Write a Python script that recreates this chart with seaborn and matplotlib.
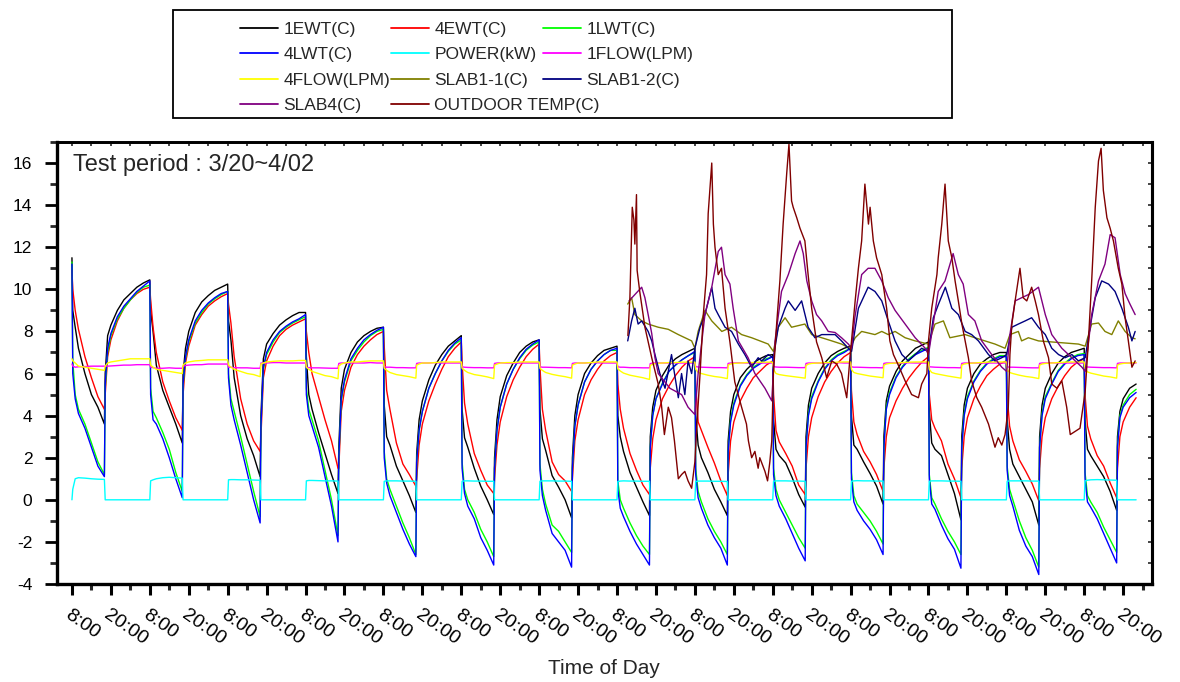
import matplotlib
matplotlib.use("Agg")
import matplotlib.pyplot as plt
from matplotlib.lines import Line2D
from matplotlib.patches import Rectangle
from matplotlib.ticker import MultipleLocator
import pandas as pd
import seaborn as sns

# ---------------------------------------------------------------- data ----
# Loop readings: one row per test day (3/20 ... 4/02).  Each row is sampled at
# these hours after 08:00 (heat pump runs 08:00-18:00, then recovers).
OFFSETS = [0, 0.25, 1, 2, 4, 6, 8, 10, 10.25, 11, 12, 14, 16, 18, 20, 22]

EWT1 = [
    [11.5, 9.0, 8.2, 7.2, 6.0, 5.0, 4.4, 3.6, 6.0, 7.8, 8.3, 9.0, 9.5, 9.8, 10.1, 10.3],
    [10.45, 9.0, 8.0, 6.4, 5.2, 4.4, 3.6, 2.7, 6.0, 7.2, 8.0, 8.9, 9.4, 9.7, 9.95, 10.1],
    [10.25, 8.5, 7.6, 5.8, 4.0, 2.9, 2.1, 1.1, 4.0, 6.7, 7.4, 7.9, 8.3, 8.55, 8.75, 8.9],
    [8.9, 6.8, 5.0, 4.3, 3.2, 2.2, 1.2, 0.3, 2.5, 5.3, 6.2, 7.0, 7.5, 7.8, 8.0, 8.15],
    [8.2, 4.5, 3.0, 2.6, 1.6, 0.9, 0.2, -0.6, 2.2, 3.8, 4.7, 5.7, 6.4, 6.9, 7.3, 7.55],
    [7.8, 4.3, 2.95, 2.5, 1.5, 0.65, 0.0, -0.7, 2.0, 3.8, 4.9, 5.9, 6.5, 7.0, 7.3, 7.5],
    [7.6, 4.3, 2.9, 2.35, 1.15, 0.6, 0.0, -0.85, 2.0, 4.0, 5.0, 6.0, 6.5, 6.85, 7.1, 7.2],
    [7.3, 4.0, 3.0, 2.3, 1.3, 0.6, -0.1, -0.75, 3.0, 4.4, 5.2, 5.9, 6.4, 6.7, 6.9, 7.05],
    [7.2, 4.0, 2.6, 2.0, 1.3, 0.5, -0.1, -0.75, 2.8, 4.2, 5.0, 5.8, 6.2, 6.5, 6.7, 6.85],
    [6.9, 3.8, 2.4, 2.1, 1.75, 1.05, 0.25, -0.35, 3.0, 4.5, 5.3, 6.0, 6.5, 6.85, 7.05, 7.2],
    [7.3, 4.0, 2.6, 2.4, 1.8, 1.25, 0.65, -0.2, 3.0, 4.7, 5.4, 6.1, 6.6, 6.9, 7.2, 7.35],
    [7.5, 4.2, 2.7, 2.4, 2.1, 1.2, 0.3, -0.95, 3.0, 4.5, 5.3, 6.0, 6.45, 6.7, 6.9, 7.0],
    [7.0, 3.8, 2.4, 1.7, 1.1, 0.5, -0.1, -1.2, 3.0, 4.5, 5.3, 6.0, 6.5, 6.8, 7.0, 7.1],
    [7.2, 3.8, 2.4, 2.1, 1.6, 1.1, 0.4, -0.5, 3.0, 4.2, 4.8, 5.3, 5.5],
]

EWT4 = [
    [10.9, 10.0, 9.0, 8.1, 6.8, 5.8, 4.9, 4.3, 5.0, 6.8, 7.6, 8.5, 9.1, 9.5, 9.8, 10.0],
    [10.1, 9.5, 8.2, 7.0, 5.6, 4.7, 3.9, 3.3, 5.0, 6.5, 7.3, 8.3, 8.8, 9.2, 9.45, 9.65],
    [9.8, 9.3, 8.4, 6.8, 4.8, 3.6, 2.8, 2.3, 3.0, 5.8, 6.6, 7.3, 7.8, 8.1, 8.3, 8.45],
    [8.6, 8.0, 7.0, 6.0, 4.9, 3.8, 2.8, 1.5, 1.5, 4.2, 5.2, 6.3, 6.9, 7.3, 7.6, 7.85],
    [8.0, 7.3, 5.2, 4.3, 2.7, 1.7, 1.2, 0.65, 1.0, 2.6, 3.6, 4.7, 5.5, 6.2, 6.8, 7.2],
    [7.5, 6.5, 4.6, 3.6, 2.2, 1.4, 0.7, 0.3, 1.0, 2.6, 3.7, 4.9, 5.7, 6.3, 6.8, 7.15],
    [7.4, 6.3, 4.3, 3.3, 1.8, 1.2, 0.9, 0.4, 1.0, 2.8, 3.8, 5.0, 5.7, 6.2, 6.6, 6.85],
    [7.0, 5.5, 4.3, 3.4, 2.2, 1.4, 0.7, 0.25, 1.5, 2.9, 3.8, 4.8, 5.4, 5.9, 6.3, 6.6],
    [6.8, 5.5, 3.7, 3.3, 2.5, 1.75, 0.9, 0.2, 1.2, 2.8, 3.7, 4.7, 5.3, 5.8, 6.1, 6.4],
    [6.6, 5.0, 3.3, 2.75, 2.2, 1.6, 0.7, 0.25, 1.5, 3.0, 3.9, 4.9, 5.6, 6.1, 6.5, 6.8],
    [7.0, 5.2, 3.7, 3.1, 2.3, 1.8, 1.2, 0.4, 1.5, 3.0, 3.9, 4.7, 5.3, 5.8, 6.2, 6.55],
    [6.8, 5.0, 3.8, 3.4, 2.8, 1.7, 1.0, 0.1, 1.5, 3.0, 3.9, 4.8, 5.4, 5.9, 6.2, 6.45],
    [6.6, 5.0, 3.5, 2.8, 1.9, 1.35, 0.75, -0.05, 1.5, 3.0, 3.9, 4.8, 5.4, 5.9, 6.3, 6.55],
    [6.7, 5.0, 3.5, 2.9, 2.1, 1.6, 0.8, 0.1, 1.5, 3.0, 3.7, 4.4, 4.85],
]

LWT1 = [
    [11.3, 6.6, 5.0, 4.3, 3.6, 2.7, 1.8, 1.2, 5.3, 7.0, 7.8, 8.6, 9.1, 9.5, 9.85, 10.1],
    [10.2, 5.3, 4.2, 3.9, 3.2, 2.4, 1.3, 0.4, 5.4, 6.7, 7.5, 8.4, 8.9, 9.3, 9.55, 9.75],
    [9.9, 6.0, 4.8, 4.2, 3.0, 1.7, 0.4, -0.8, 3.5, 6.2, 6.9, 7.5, 7.95, 8.2, 8.4, 8.55],
    [8.7, 5.3, 4.3, 3.8, 2.8, 1.4, 0.0, -1.7, 2.0, 4.7, 5.6, 6.6, 7.1, 7.5, 7.8, 8.0],
    [8.1, 2.3, 1.0, 0.5, -0.3, -1.1, -1.8, -2.6, 1.8, 3.3, 4.2, 5.3, 6.0, 6.6, 7.05, 7.4],
    [7.6, 1.8, 0.5, 0.0, -0.6, -1.4, -2.0, -2.7, 1.5, 3.3, 4.4, 5.5, 6.2, 6.7, 7.1, 7.35],
    [7.5, 1.7, 0.5, -0.2, -1.2, -1.5, -2.0, -2.5, 1.5, 3.5, 4.5, 5.6, 6.2, 6.6, 6.9, 7.1],
    [7.1, 0.9, 0.0, -0.4, -1.1, -1.7, -2.2, -2.6, 2.5, 4.0, 4.8, 5.55, 6.1, 6.4, 6.65, 6.85],
    [7.0, 1.5, 0.4, -0.1, -0.9, -1.5, -2.0, -2.6, 2.3, 3.8, 4.6, 5.45, 5.95, 6.3, 6.5, 6.7],
    [6.8, 1.5, 0.5, 0.0, -0.6, -1.2, -1.8, -2.3, 2.5, 4.1, 4.9, 5.65, 6.25, 6.65, 6.9, 7.05],
    [7.2, 1.3, 0.2, -0.2, -0.6, -1.0, -1.5, -2.1, 2.5, 4.4, 5.1, 5.85, 6.35, 6.7, 6.95, 7.1],
    [7.25, 1.2, 0.1, -0.2, -0.9, -1.5, -2.0, -2.6, 2.5, 4.1, 4.9, 5.65, 6.15, 6.5, 6.7, 6.85],
    [6.85, 1.6, 0.5, 0.0, -1.0, -1.8, -2.4, -3.2, 2.5, 4.1, 4.9, 5.55, 6.15, 6.5, 6.75, 6.9],
    [6.95, 1.3, 0.2, -0.1, -0.6, -1.3, -1.9, -2.5, 2.6, 4.0, 4.5, 5.0, 5.25],
]

LWT4 = [
    [11.2, 6.0, 4.8, 4.1, 3.4, 2.5, 1.6, 1.1, 5.5, 7.2, 7.9, 8.7, 9.2, 9.55, 9.9, 10.15],
    [10.4, 5.0, 3.8, 3.6, 2.9, 2.0, 1.0, 0.1, 5.5, 6.8, 7.6, 8.5, 9.0, 9.35, 9.6, 9.8],
    [9.9, 5.8, 4.5, 3.8, 2.6, 1.3, 0.0, -1.1, 3.5, 6.3, 7.0, 7.6, 8.0, 8.25, 8.45, 8.6],
    [8.8, 5.0, 4.0, 3.5, 2.5, 1.1, -0.3, -2.0, 2.0, 4.8, 5.7, 6.7, 7.2, 7.6, 7.85, 8.05],
    [8.2, 2.0, 0.8, 0.2, -0.6, -1.4, -2.1, -2.7, 1.8, 3.3, 4.2, 5.3, 6.0, 6.6, 7.1, 7.45],
    [7.7, 1.5, 0.3, -0.3, -0.9, -1.8, -2.4, -3.1, 1.5, 3.3, 4.4, 5.5, 6.2, 6.75, 7.15, 7.4],
    [7.6, 1.4, 0.2, -0.5, -1.6, -2.0, -2.4, -3.2, 1.5, 3.5, 4.5, 5.6, 6.2, 6.6, 6.9, 7.1],
    [7.2, 0.5, -0.4, -0.8, -1.5, -2.1, -2.6, -3.1, 2.5, 4.0, 4.8, 5.5, 6.1, 6.4, 6.65, 6.85],
    [7.05, 1.2, 0.1, -0.4, -1.2, -1.8, -2.3, -3.1, 2.3, 3.7, 4.5, 5.4, 5.9, 6.25, 6.45, 6.65],
    [6.8, 1.2, 0.2, -0.3, -0.9, -1.6, -2.3, -2.9, 2.5, 4.0, 4.8, 5.6, 6.2, 6.6, 6.85, 7.0],
    [7.2, 1.0, -0.1, -0.5, -1.0, -1.4, -1.9, -2.6, 2.5, 4.3, 5.0, 5.8, 6.3, 6.65, 6.9, 7.05],
    [7.2, 1.0, -0.2, -0.45, -1.2, -1.85, -2.35, -3.25, 2.5, 4.0, 4.8, 5.6, 6.1, 6.45, 6.65, 6.8],
    [6.8, 1.4, 0.2, -0.3, -1.45, -2.2, -2.7, -3.55, 2.5, 4.0, 4.8, 5.5, 6.1, 6.45, 6.7, 6.85],
    [6.9, 1.0, -0.1, -0.35, -0.9, -1.6, -2.3, -3.0, 2.5, 3.9, 4.4, 4.85, 5.1],
]

POWER_KW = [
    [0, 0.50, 1.00, 1.05, 1.03, 1.00, 0.98, 0.97, 0, 0, 0, 0, 0, 0, 0, 0],
    [0, 0.90, 0.95, 1.00, 1.05, 1.07, 1.05, 1.03, 0, 0, 0, 0, 0, 0, 0, 0],
    [0, 0.95, 0.96, 0.96, 0.95, 0.95, 0.94, 0.93, 0, 0, 0, 0, 0, 0, 0, 0],
    [0, 0.90, 0.92, 0.92, 0.91, 0.90, 0.90, 0.89, 0, 0, 0, 0, 0, 0, 0, 0],
    [0, 0.88, 0.90, 0.90, 0.90, 0.89, 0.89, 0.88, 0, 0, 0, 0, 0, 0, 0, 0],
    [0, 0.88, 0.90, 0.90, 0.89, 0.89, 0.88, 0.88, 0, 0, 0, 0, 0, 0, 0, 0],
    [0, 0.88, 0.90, 0.90, 0.90, 0.89, 0.89, 0.88, 0, 0, 0, 0, 0, 0, 0, 0],
    [0, 0.87, 0.89, 0.90, 0.89, 0.89, 0.88, 0.88, 0, 0, 0, 0, 0, 0, 0, 0],
    [0, 0.87, 0.89, 0.89, 0.89, 0.88, 0.88, 0.87, 0, 0, 0, 0, 0, 0, 0, 0],
    [0, 0.88, 0.90, 0.90, 0.90, 0.89, 0.89, 0.88, 0, 0, 0, 0, 0, 0, 0, 0],
    [0, 0.88, 0.90, 0.91, 0.90, 0.90, 0.89, 0.89, 0, 0, 0, 0, 0, 0, 0, 0],
    [0, 0.88, 0.90, 0.90, 0.90, 0.89, 0.89, 0.88, 0, 0, 0, 0, 0, 0, 0, 0],
    [0, 0.88, 0.90, 0.90, 0.90, 0.90, 0.89, 0.89, 0, 0, 0, 0, 0, 0, 0, 0],
    [0, 0.90, 0.93, 0.95, 0.96, 0.95, 0.94, 0.93, 0, 0, 0, 0, 0],
]

FLOW1 = [
    [6.45, 6.35, 6.30, 6.32, 6.33, 6.35, 6.35, 6.35, 6.35, 6.35, 6.36, 6.38, 6.40, 6.40, 6.42, 6.42],
    [6.42, 6.30, 6.28, 6.25, 6.25, 6.27, 6.25, 6.25, 6.35, 6.38, 6.40, 6.42, 6.42, 6.45, 6.45, 6.45],
    [6.45, 6.30, 6.30, 6.28, 6.27, 6.27, 6.25, 6.25, 6.50, 6.50, 6.50, 6.52, 6.52, 6.50, 6.50, 6.50],
    [6.50, 6.30, 6.28, 6.27, 6.27, 6.26, 6.25, 6.25, 6.48, 6.50, 6.50, 6.50, 6.50, 6.50, 6.52, 6.50],
    [6.50, 6.32, 6.30, 6.30, 6.28, 6.28, 6.27, 6.27, 6.48, 6.50, 6.50, 6.50, 6.52, 6.50, 6.50, 6.50],
    [6.50, 6.32, 6.30, 6.29, 6.28, 6.28, 6.27, 6.27, 6.48, 6.50, 6.51, 6.50, 6.50, 6.50, 6.50, 6.50],
    [6.50, 6.32, 6.30, 6.30, 6.29, 6.28, 6.28, 6.27, 6.48, 6.50, 6.50, 6.50, 6.52, 6.51, 6.50, 6.50],
    [6.50, 6.32, 6.30, 6.30, 6.28, 6.28, 6.27, 6.27, 6.47, 6.50, 6.50, 6.50, 6.50, 6.50, 6.50, 6.50],
    [6.50, 6.33, 6.31, 6.30, 6.29, 6.28, 6.28, 6.27, 6.48, 6.50, 6.50, 6.51, 6.50, 6.50, 6.50, 6.50],
    [6.50, 6.33, 6.31, 6.30, 6.30, 6.29, 6.28, 6.28, 6.48, 6.50, 6.50, 6.50, 6.50, 6.50, 6.52, 6.50],
    [6.50, 6.32, 6.30, 6.30, 6.29, 6.28, 6.28, 6.27, 6.48, 6.50, 6.50, 6.50, 6.50, 6.51, 6.50, 6.50],
    [6.50, 6.32, 6.31, 6.30, 6.29, 6.28, 6.28, 6.27, 6.48, 6.50, 6.50, 6.50, 6.50, 6.50, 6.50, 6.50],
    [6.50, 6.32, 6.30, 6.30, 6.29, 6.28, 6.27, 6.27, 6.48, 6.50, 6.50, 6.51, 6.50, 6.50, 6.50, 6.50],
    [6.50, 6.33, 6.31, 6.30, 6.29, 6.28, 6.28, 6.27, 6.48, 6.50, 6.50, 6.50, 6.50],
]

FLOW4 = [
    [6.70, 6.60, 6.50, 6.35, 6.30, 6.25, 6.20, 6.15, 6.35, 6.50, 6.55, 6.60, 6.65, 6.70, 6.70, 6.70],
    [6.70, 6.40, 6.30, 6.20, 6.15, 6.10, 6.05, 6.00, 6.40, 6.50, 6.55, 6.60, 6.62, 6.65, 6.65, 6.65],
    [6.65, 6.40, 6.30, 6.20, 6.10, 6.00, 5.95, 5.85, 6.45, 6.50, 6.55, 6.58, 6.60, 6.60, 6.60, 6.62],
    [6.62, 6.30, 6.20, 6.10, 6.00, 5.90, 5.85, 5.75, 6.35, 6.45, 6.50, 6.55, 6.55, 6.58, 6.60, 6.60],
    [6.60, 6.25, 6.15, 6.05, 5.95, 5.90, 5.85, 5.78, 6.40, 6.45, 6.50, 6.50, 6.52, 6.55, 6.55, 6.55],
    [6.55, 6.25, 6.15, 6.05, 5.95, 5.90, 5.84, 5.76, 6.40, 6.45, 6.50, 6.52, 6.52, 6.55, 6.55, 6.55],
    [6.55, 6.25, 6.15, 6.05, 5.96, 5.90, 5.85, 5.78, 6.40, 6.45, 6.50, 6.50, 6.52, 6.55, 6.55, 6.55],
    [6.55, 6.22, 6.12, 6.02, 5.92, 5.86, 5.80, 5.72, 6.38, 6.44, 6.48, 6.50, 6.52, 6.52, 6.54, 6.54],
    [6.54, 6.20, 6.05, 6.00, 5.92, 5.86, 5.82, 5.76, 6.40, 6.45, 6.48, 6.50, 6.52, 6.52, 6.54, 6.54],
    [6.54, 6.20, 6.00, 5.95, 5.90, 5.86, 5.82, 5.78, 6.38, 6.45, 6.48, 6.50, 6.52, 6.52, 6.54, 6.55],
    [6.55, 6.20, 6.05, 6.00, 5.94, 5.88, 5.84, 5.80, 6.40, 6.45, 6.48, 6.50, 6.52, 6.54, 6.55, 6.55],
    [6.55, 6.20, 6.05, 6.00, 5.94, 5.88, 5.83, 5.78, 6.40, 6.45, 6.48, 6.50, 6.52, 6.54, 6.55, 6.55],
    [6.55, 6.20, 6.05, 6.00, 5.92, 5.86, 5.82, 5.76, 6.40, 6.45, 6.48, 6.50, 6.52, 6.54, 6.55, 6.55],
    [6.55, 6.22, 6.08, 6.02, 5.95, 5.88, 5.84, 5.78, 6.40, 6.45, 6.48, 6.50, 6.52],
]

# Slab and outdoor sensors were logged from 3/27 onward (hours since 3/20 00:00).
SLAB11_HOURS = [179.3, 180.5, 181.5, 183.6, 185.6, 188.7, 191.8, 194.9, 199.0, 200.0,
                201.0, 203.1, 205.2, 208.3, 211.3, 214.4, 217.5, 222.6, 224.2, 225.7,
                227.8, 229.8, 233.9, 236.0, 239.1, 242.2, 245.2, 247.8, 249.4, 251.4,
                255.5, 257.6, 259.6, 261.7, 264.8, 267.9, 272.0, 274.0, 276.6, 278.6,
                283.3, 286.3, 289.4, 292.5, 295.6, 297.1, 299.7, 300.7, 302.8, 305.9,
                314.1, 318.2, 320.3, 322.3, 324.4, 326.4, 328.5, 330.5, 332.6, 334.7, 335.7]
SLAB11_TEMP = [9.3, 9.6, 8.8, 8.5, 8.35, 8.2, 8.1, 7.85, 7.55, 7.2,
               8.0, 9.0, 8.5, 8.0, 8.2, 7.85, 7.7, 7.4, 7.05, 8.2,
               8.65, 8.2, 8.35, 7.85, 7.7, 7.55, 7.4, 7.2, 7.7, 8.0,
               7.85, 8.0, 7.85, 8.0, 7.7, 7.55, 7.4, 8.35, 8.5, 7.7,
               7.85, 7.7, 7.55, 7.4, 7.2, 7.85, 8.0, 7.55, 7.7, 7.55,
               7.45, 7.4, 7.3, 8.35, 8.4, 8.0, 7.85, 8.5, 8.0, 7.7, 7.65]

SLAB12_HOURS = [179.3, 180.5, 181.5, 182.5, 183.6, 185.6, 186.7, 187.7, 189.2, 190.8,
                192.8, 194.9, 195.9, 196.9, 197.9, 199.0, 200.0, 201.6, 203.1, 205.2,
                206.2, 207.2, 209.3, 211.3, 213.4, 215.4, 217.5, 219.5, 220.6, 222.6,
                224.2, 225.7, 227.8, 228.8, 230.9, 232.9, 234.9, 237.0, 239.1, 243.2,
                245.2, 247.3, 248.3, 250.4, 253.4, 255.5, 257.6, 259.6, 261.7, 263.8,
                265.8, 267.9, 269.9, 272.0, 273.5, 275.1, 277.2, 279.2, 281.2, 283.3,
                285.3, 287.4, 290.5, 292.5, 294.6, 296.1, 297.7, 299.7, 301.8, 303.8,
                305.9, 308.0, 310.0, 312.1, 314.1, 316.2, 318.2, 320.3, 321.8, 323.4,
                325.4, 327.5, 329.5, 331.6, 333.6, 334.7, 335.7]
SLAB12_TEMP = [7.55, 8.5, 9.1, 8.35, 8.5, 8.0, 7.55, 6.9, 6.0, 5.3,
               6.9, 4.85, 6.0, 5.0, 6.6, 6.0, 7.2, 8.2, 8.8, 10.1,
               9.1, 8.8, 8.2, 8.0, 7.4, 6.9, 6.3, 6.75, 6.6, 6.9,
               6.75, 8.2, 9.1, 9.45, 9.0, 9.45, 8.2, 7.7, 7.85, 7.85,
               7.55, 7.2, 7.05, 9.1, 10.1, 9.9, 9.45, 8.5, 7.55, 6.9,
               6.6, 6.9, 7.2, 7.05, 8.65, 9.3, 10.1, 9.1, 8.8, 8.0,
               7.85, 7.55, 6.9, 6.6, 6.75, 6.9, 8.2, 8.35, 8.5, 8.65,
               8.2, 7.85, 7.2, 6.9, 6.75, 6.9, 6.6, 6.75, 8.2, 9.6,
               10.4, 10.25, 9.9, 9.1, 8.2, 7.55, 8.0]

SLAB4_HOURS = [179.7, 183.6, 184.6, 185.6, 186.7, 187.7, 188.7, 192.3, 195.9, 197.9,
               200.0, 201.0, 203.1, 205.2, 207.2, 208.2, 209.3, 210.8, 211.8, 213.4,
               216.4, 218.5, 221.6, 223.7, 224.7, 226.7, 228.8, 230.9, 232.4, 233.4,
               234.5, 236.0, 237.5, 239.1, 241.1, 243.2, 245.2, 247.3, 248.3, 249.3,
               251.4, 253.4, 255.5, 257.6, 259.6, 261.7, 264.8, 267.9, 271.0, 272.0,
               275.0, 277.1, 279.6, 281.2, 282.7, 284.3, 286.3, 288.4, 291.5, 294.6,
               296.1, 297.1, 298.7, 300.7, 302.8, 305.9, 308.0, 310.0, 313.1, 316.2,
               319.3, 320.3, 322.3, 324.4, 326.4, 328.0, 329.5, 331.1, 332.6, 334.1, 335.7]
SLAB4_TEMP = [9.45, 10.1, 9.6, 8.8, 7.9, 6.75, 6.0, 5.3, 5.0, 4.4,
              4.05, 6.0, 8.8, 10.1, 11.8, 12.0, 10.7, 10.25, 9.1, 7.55,
              6.75, 6.0, 5.3, 4.7, 7.55, 9.9, 10.7, 11.7, 12.3, 11.7,
              10.4, 9.45, 8.8, 8.5, 8.0, 7.95, 7.7, 7.4, 7.2, 8.65,
              10.7, 11.0, 11.0, 10.4, 9.6, 9.0, 8.35, 7.7, 7.2, 6.9,
              9.9, 10.4, 11.7, 10.7, 10.25, 8.8, 8.5, 7.55, 6.9, 6.3,
              6.1, 7.85, 9.45, 9.6, 9.75, 10.1, 8.8, 7.85, 7.2, 6.75,
              6.3, 6.1, 8.8, 10.4, 11.2, 12.6, 12.45, 10.7, 9.8, 9.3, 8.8]

OUTDOOR_HOURS = [179.35, 179.97, 180.7, 181.2, 181.5, 182.0, 182.2, 183.0, 184.6, 186.7,
                 188.7, 189.7, 190.6, 191.8, 192.8, 193.7, 194.9, 195.9, 196.9, 197.9,
                 199.0, 200.0, 200.5, 201.6, 202.6, 203.6, 204.1, 205.2, 205.7, 206.2,
                 207.2, 208.2, 209.3, 210.8, 212.3, 214.4, 215.9, 216.5, 217.5, 218.5,
                 219.5, 220.0, 221.6, 222.4, 223.1, 223.7, 224.2, 225.2, 226.2, 227.2,
                 228.3, 229.0, 229.8, 230.3, 231.4, 232.4, 233.9, 234.9, 236.0, 237.5,
                 239.1, 240.6, 242.2, 243.7, 245.2, 246.3, 246.8, 247.8, 249.4, 250.4,
                 251.4, 252.4, 253.5, 254.0, 255.0, 256.0, 257.6, 259.1, 260.1, 261.2,
                 262.7, 264.8, 266.8, 268.9, 269.9, 271.5, 272.0, 273.0, 274.6, 275.0,
                 276.1, 277.1, 278.1, 279.2, 280.2, 281.2, 282.3, 283.3, 284.3, 285.3,
                 286.9, 288.4, 290.5, 292.5, 293.5, 294.6, 295.6, 296.6, 297.1, 297.7,
                 298.7, 300.2, 301.2, 302.3, 303.8, 304.9, 305.9, 307.4, 309.0, 310.0,
                 311.6, 313.1, 314.6, 315.7, 317.2, 318.7, 320.3, 321.3, 322.3, 323.4,
                 324.4, 325.2, 325.9, 327.0, 328.0, 329.0, 330.5, 331.6, 332.6, 333.6,
                 334.7, 335.7]
OUTDOOR_TEMP = [7.8, 9.6, 13.9, 13.3, 12.15, 14.5, 10.9, 9.9, 8.2, 6.75,
                5.5, 4.5, 3.1, 4.4, 3.9, 2.8, 1.0, 1.2, 1.35, 0.9,
                0.55, 1.8, 3.25, 6.0, 8.8, 10.7, 13.6, 16.0, 13.1, 12.0,
                10.7, 11.0, 9.1, 7.5, 5.6, 4.4, 3.6, 2.8, 2.0, 2.3,
                1.5, 2.0, 1.35, 0.9, 1.8, 2.8, 6.0, 8.35, 10.4, 13.1,
                15.5, 16.9, 14.2, 13.9, 13.4, 12.9, 12.3, 10.7, 9.1, 7.5,
                6.75, 5.8, 6.6, 6.45, 6.0, 5.2, 4.85, 6.75, 9.45, 11.0,
                12.3, 15.0, 13.1, 13.9, 12.3, 11.5, 10.7, 9.1, 7.55, 6.9,
                6.4, 5.65, 5.0, 4.85, 5.5, 6.0, 7.55, 9.1, 10.7, 11.5,
                13.1, 15.0, 12.3, 11.5, 10.4, 9.45, 8.35, 7.55, 6.75, 5.65,
                4.85, 4.4, 3.6, 2.5, 2.95, 2.6, 3.1, 4.4, 6.9, 8.35,
                9.45, 11.0, 9.6, 9.45, 10.1, 9.45, 8.8, 7.55, 6.75, 5.5,
                5.3, 5.65, 4.4, 3.1, 3.25, 3.4, 5.15, 7.55, 10.4, 13.9,
                16.1, 16.7, 14.7, 13.4, 12.9, 12.3, 11.0, 10.25, 8.65, 7.55,
                6.3, 6.6]

SERIES = ["1EWT(C)", "4EWT(C)", "1LWT(C)", "4LWT(C)", "POWER(kW)", "1FLOW(LPM)",
          "4FLOW(LPM)", "SLAB1-1(C)", "SLAB1-2(C)", "SLAB4(C)", "OUTDOOR TEMP(C)"]
COLORS = ["#000000", "#ff0000", "#00ff00", "#0000ff", "#00ffff", "#ff00ff",
          "#ffff00", "#808000", "#000080", "#800080", "#800000"]

TICK_NAMES = ["8:00", "20:00"]


def daily(rows):
    hours, vals = [], []
    for day, row in enumerate(rows):
        for off, v in zip(OFFSETS, row):
            hours.append(8 + 24 * day + off)
            vals.append(v)
    return hours, vals


frames = []
for name, rows in zip(SERIES[:7], [EWT1, EWT4, LWT1, LWT4, POWER_KW, FLOW1, FLOW4]):
    h, v = daily(rows)
    frames.append(pd.DataFrame({"hours": h, "value": v, "series": name}))
for name, h, v in zip(SERIES[7:],
                      [SLAB11_HOURS, SLAB12_HOURS, SLAB4_HOURS, OUTDOOR_HOURS],
                      [SLAB11_TEMP, SLAB12_TEMP, SLAB4_TEMP, OUTDOOR_TEMP]):
    frames.append(pd.DataFrame({"hours": h, "value": v, "series": name}))
data = pd.concat(frames, ignore_index=True)

# ---------------------------------------------------------------- style ---
sns.set_theme(style="white")
plt.rcParams["font.family"] = ["Liberation Sans", "DejaVu Sans"]
plt.rcParams["axes.unicode_minus"] = False

fig = plt.figure(figsize=(11.8, 6.82), dpi=100)
ax = fig.add_axes([56.7 / 1180, 1 - 584 / 682, 1095 / 1180, 442 / 682])

sns.lineplot(data=data, x="hours", y="value", hue="series", hue_order=SERIES,
             palette=dict(zip(SERIES, COLORS)), estimator=None, sort=False,
             linewidth=1.0, legend=False, ax=ax)

ax.set_xlim(3.3, 340.8)
ax.set_ylim(-4, 17)
ax.set_xlabel("")
ax.set_ylabel("")

# y axis
ax.yaxis.set_major_locator(MultipleLocator(2))
ax.yaxis.set_minor_locator(MultipleLocator(1))
ax.tick_params(axis="y", which="major", direction="out", length=8.5, width=2,
               pad=9, labelsize=12.5, colors="black", left=True, right=False)
ax.tick_params(axis="y", which="minor", direction="out", length=5, width=2,
               left=True, right=False)

# x axis: 8:00 / 20:00 each day, minor marks at 14:00 / 02:00
majors = [8 + 12 * k for k in range(28)]
minors = [14 + 12 * k for k in range(28)]
ax.set_xticks(majors)
ax.set_xticklabels([TICK_NAMES[k % 2] for k in range(28)], rotation=-35,
                   ha="left", va="top", rotation_mode="anchor", fontsize=14)
ax.set_xticks(minors, minor=True)
ax.tick_params(axis="x", which="major", direction="out", length=8, width=2.2,
               pad=8, colors="black", bottom=True, top=False)
ax.tick_params(axis="x", which="minor", direction="out", length=4.5, width=2.2,
               bottom=True, top=False)

top = ax.secondary_xaxis("top")
top.set_xticks(majors + minors)
top.tick_params(axis="x", which="major", direction="in", length=3, width=1.2,
                labeltop=False)
top.spines["top"].set_linewidth(2)
right = ax.secondary_yaxis("right")
right.set_yticks(list(range(-4, 18)))
right.tick_params(axis="y", which="major", direction="in", length=3, width=1.2,
                  labelright=False)
right.spines["right"].set_linewidth(2.2)

for side, lw in {"left": 2.4, "bottom": 2.4, "top": 2, "right": 2.2}.items():
    ax.spines[side].set_linewidth(lw)
    ax.spines[side].set_color("black")

ax.text((73 - 56.7) / 1095, (584 - 165) / 442, "Test period : 3/20~4/02",
        transform=ax.transAxes, ha="left", va="center", fontsize=17)
fig.text(604 / 1180, 1 - 668 / 682, "Time of Day", ha="center", va="center",
         fontsize=15)

# legend: framed box with three columns of entries
fig.patches.append(Rectangle((173 / 1180, 1 - 118 / 682), 779 / 1180, 108 / 682,
                             transform=fig.transFigure, fill=False,
                             edgecolor="black", linewidth=1.3))
col_x = [240, 391, 543]
columns = [[0, 3, 6, 9], [1, 4, 7, 10], [2, 5, 8]]
for cx, idx in zip(col_x, columns):
    handles = [Line2D([0], [0], color=COLORS[i], lw=1.3) for i in idx]
    fig.legend(handles, [SERIES[i] for i in idx], loc="upper left",
               bbox_to_anchor=(cx / 1180, 1 - 22 / 682), frameon=False,
               borderpad=0, borderaxespad=0, handlelength=2.2,
               handletextpad=0.3, labelspacing=0.58, fontsize=12.5)

fig.savefig("out.png", dpi=100)
